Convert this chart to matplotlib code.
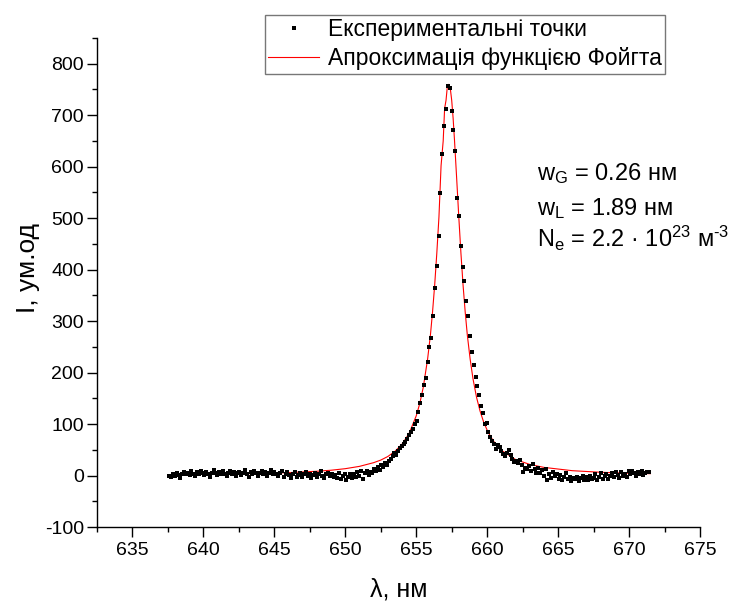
""" Voigt fit of the H-alpha line """
import matplotlib
matplotlib.use("Agg")
import matplotlib.pyplot as plt
from matplotlib.ticker import MultipleLocator

plt.rcParams['font.family'] = ['Liberation Sans', 'DejaVu Sans']
plt.rcParams['mathtext.fontset'] = 'custom'
plt.rcParams['mathtext.rm'] = 'Liberation Sans'
plt.rcParams['mathtext.it'] = 'Liberation Sans:italic'
plt.rcParams['axes.unicode_minus'] = False

# experimental points, nm
wavelength = [
    637.60, 637.73, 637.86, 637.99, 638.12, 638.25, 638.38, 638.51, 638.64, 638.77,
    638.90, 639.03, 639.16, 639.29, 639.42, 639.55, 639.68, 639.81, 639.94, 640.07,
    640.20, 640.33, 640.46, 640.59, 640.72, 640.85, 640.98, 641.11, 641.24, 641.37,
    641.50, 641.63, 641.76, 641.89, 642.02, 642.15, 642.28, 642.41, 642.54, 642.67,
    642.80, 642.93, 643.06, 643.19, 643.32, 643.45, 643.58, 643.71, 643.84, 643.97,
    644.10, 644.23, 644.36, 644.49, 644.62, 644.75, 644.88, 645.01, 645.14, 645.27,
    645.40, 645.53, 645.66, 645.79, 645.92, 646.05, 646.18, 646.31, 646.44, 646.57,
    646.70, 646.83, 646.96, 647.09, 647.22, 647.35, 647.48, 647.61, 647.74, 647.87,
    648.00, 648.13, 648.26, 648.39, 648.52, 648.65, 648.78, 648.91, 649.04, 649.17,
    649.30, 649.43, 649.56, 649.69, 649.82, 649.95, 650.08, 650.21, 650.34, 650.47,
    650.60, 650.73, 650.86, 650.99, 651.12, 651.25, 651.38, 651.51, 651.64, 651.77,
    651.90, 652.03, 652.16, 652.29, 652.42, 652.55, 652.68, 652.81, 652.94, 653.07,
    653.20, 653.33, 653.46, 653.59, 653.72, 653.85, 653.98, 654.11, 654.24, 654.37,
    654.50, 654.63, 654.76, 654.89, 655.02, 655.15, 655.28, 655.41, 655.54, 655.67,
    655.80, 655.93, 656.06, 656.19, 656.32, 656.45, 656.58, 656.71, 656.84, 656.97,
    657.10, 657.23, 657.36, 657.49, 657.62, 657.75, 657.88, 658.01, 658.14, 658.27,
    658.40, 658.53, 658.66, 658.79, 658.92, 659.05, 659.18, 659.31, 659.44, 659.57,
    659.70, 659.83, 659.96, 660.09, 660.22, 660.35, 660.48, 660.61, 660.74, 660.87,
    661.00, 661.13, 661.26, 661.39, 661.52, 661.65, 661.78, 661.91, 662.04, 662.17,
    662.30, 662.43, 662.56, 662.69, 662.82, 662.95, 663.08, 663.21, 663.34, 663.47,
    663.60, 663.73, 663.86, 663.99, 664.12, 664.25, 664.38, 664.51, 664.64, 664.77,
    664.90, 665.03, 665.16, 665.29, 665.42, 665.55, 665.68, 665.81, 665.94, 666.07,
    666.20, 666.33, 666.46, 666.59, 666.72, 666.85, 666.98, 667.11, 667.24, 667.37,
    667.50, 667.63, 667.76, 667.89, 668.02, 668.15, 668.28, 668.41, 668.54, 668.67,
    668.80, 668.93, 669.06, 669.19, 669.32, 669.45, 669.58, 669.71, 669.84, 669.97,
    670.10, 670.23, 670.36, 670.49, 670.62, 670.75, 670.88, 671.01, 671.14, 671.27,
    671.40,
]
intensity = [
    0, -3, 2, -1, 4, 1, -5, 3, 6, 2,
    5, 1, 8, 3, -1, 6, 2, 9, 4, 1,
    7, 3, -2, 5, 10, 4, 1, 6, 2, 8,
    3, -1, 5, 9, 2, 6, 0, 4, 7, 1,
    5, 10, 3, -2, 6, 2, 8, 4, 0, 5,
    9, 3, 6, -1, 4, 11, 2, 7, 3, 0,
    4, 8, -3, 2, 6, 1, -4, 3, 7, -2,
    1, 5, -3, 2, 6, -1, 3, -5, 1, 4,
    -2, 3, 8, 0, -4, 2, 5, -1, 3, -3,
    1, -4, 4, -6, -1, 2, -8, -2, 3, -5,
    2, -3, 6, 0, 8, -6, 4, 9, 1, 7,
    5, 12, 8, 16, 11, 20, 17, 24, 21, 28,
    33, 38, 44, 40, 48, 53, 57, 62, 66, 71,
    78, 84, 90, 100, 106, 124, 140, 156, 176, 190,
    220, 250, 268, 310, 364, 408, 465, 548, 625, 679,
    712, 757, 752, 708, 672, 630, 540, 505, 445, 405,
    378, 340, 310, 272, 240, 214, 192, 173, 157, 136,
    122, 100, 102, 84, 74, 68, 62, 52, 59, 55,
    48, 42, 37, 44, 50, 40, 33, 27, 28, 24,
    31, 20, 6, 15, 12, 18, 8, 23, 12, 5,
    15, 5, 10, -1, 13, -8, 2, -4, 6, -1,
    3, -6, 1, -9, -3, 4, -7, -2, -10, -4,
    -6, -2, -11, -5, 0, -8, -3, -9, -1, -6,
    -4, 2, -8, -2, 4, -6, -1, 3, -7, 0,
    4, -3, 6, 1, -5, 7, 0, 3, -2, 8,
    2, 9, 4, -1, 6, 3, 8, 1, 5, 7,
    6,
]

# Voigt fit curve
fit_wl = [637.5, 640.0, 643.0, 646.0, 648.0, 649.0, 650.0, 651.0, 652.0, 652.5,
          653.0, 653.5, 654.0, 654.5, 655.0, 655.25, 655.5, 655.8, 656.0, 656.15,
          656.3, 656.45, 656.6, 656.75, 656.9, 657.0, 657.1, 657.2, 657.3, 657.4,
          657.5, 657.6, 657.7, 657.85, 658.0, 658.15, 658.3, 658.45, 658.6, 658.8,
          659.0, 659.25, 659.5, 659.75, 660.0, 660.25, 660.5, 661.0, 662.0, 663.0,
          664.0, 666.0, 668.0, 670.0, 671.5]
fit_int = [1.8, 2.4, 3.5, 5.6, 8.3, 10.3, 13.3, 17.8, 25, 30,
           37, 47, 61, 82, 116, 140, 172, 226, 273, 318,
           370, 432, 502, 602, 650, 713, 729, 758, 760, 752,
           729, 694, 650, 577, 502, 432, 370, 318, 273, 226,
           188, 152, 125, 104, 88, 75, 65, 49, 31, 21.6,
           15.8, 9.4, 6.3, 4.5, 3.6]

x_ticks = [635, 640, 645, 650, 655, 660, 665, 670, 675]
y_ticks = [-100, 0, 100, 200, 300, 400, 500, 600, 700, 800]

fig = plt.figure(figsize=(7.38, 6.01), dpi=100)
ax = fig.add_axes([97 / 738, 74 / 601, 603 / 738, 489 / 601])

ax.plot(wavelength, intensity, 's', color='black', markersize=3.0, markeredgewidth=0,
        label='Експериментальні точки', zorder=3)
ax.plot(fit_wl, fit_int, '-', color='red', linewidth=0.8,
        label='Апроксимація функцією Фойгта', zorder=2)

ax.set_xlim(632.5, 675)
ax.set_ylim(-100, 850)
ax.set_xticks(x_ticks)
ax.set_yticks(y_ticks)
ax.xaxis.set_minor_locator(MultipleLocator(2.5))
ax.yaxis.set_minor_locator(MultipleLocator(50))

for side in ['top', 'right']:
    ax.spines[side].set_visible(False)
for side in ['left', 'bottom']:
    ax.spines[side].set_linewidth(1.0)
ax.tick_params(which='major', direction='out', length=7, width=1.0, labelsize=14)
ax.tick_params(axis='y', which='major', pad=2.5)
ax.tick_params(axis='x', which='major', pad=4)
ax.tick_params(which='minor', direction='out', length=3.8, width=1.0)

ax.set_xlabel('λ, нм', fontsize=18)
ax.set_ylabel('I, ум.од', fontsize=19)
ax.xaxis.set_label_coords(0.5, -0.104)
ax.yaxis.set_label_coords(-0.095, 0.53)

leg = ax.legend(loc='upper left', bbox_to_anchor=(265 / 738, 1 - 15 / 601),
                bbox_transform=fig.transFigure, fontsize=16.5, frameon=True,
                fancybox=False, handlelength=2.2, handletextpad=0.4,
                borderpad=0.15, labelspacing=0.25, borderaxespad=0)
leg.get_frame().set_edgecolor('#555555')
leg.get_frame().set_linewidth(1.0)

fig.text(537 / 738, 1 - 180 / 601, r'w$_\mathrm{G}$ = 0.26 нм', fontsize=17, va='baseline')
fig.text(537 / 738, 1 - 215 / 601, r'w$_\mathrm{L}$ = 1.89 нм', fontsize=17, va='baseline')
fig.text(537 / 738, 1 - 247 / 601, r'N$_\mathrm{e}$ = 2.2 · 10$^\mathrm{23}$ м$^\text{-3}$',
         fontsize=17, va='baseline')

fig.savefig('out.png', dpi=100)
